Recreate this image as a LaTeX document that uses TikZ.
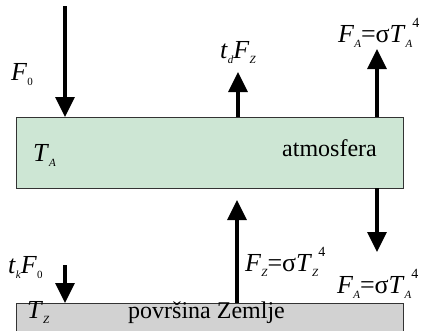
\documentclass[tikz,border=0pt]{standalone}
\usepackage{fontspec}
\setmainfont{Liberation Serif}
\usetikzlibrary{arrows.meta}
\definecolor{atmgreen}{HTML}{CDE6D4}
\definecolor{groundgray}{HTML}{D2D2D2}
\newcommand{\sbx}[1]{\raisebox{-0.22em}{\fontsize{11}{11}\selectfont #1}}
\newcommand{\spx}[1]{\raisebox{0.55em}{\fontsize{14}{14}\selectfont #1}}
\tikzset{
  flux/.style={line width=3.2pt, -{Triangle[length=20pt,width=19pt]}},
  layer/.style={draw=black!80, line width=0.9pt, inner sep=0pt},
  mlabel/.style={inner sep=0pt, font=\fontsize{26}{30}\selectfont},
  tlabel/.style={inner sep=0pt, font=\fontsize{24}{28}\selectfont},
}
\begin{document}
\begin{tikzpicture}[x=1pt,y=-1pt]
\clip (0,0) rectangle (427,330);
\fill[white] (0,0) rectangle (427,330);
% layers
\node[layer, fill=atmgreen, minimum width=387pt, minimum height=71pt] (atm) at (209.5,152.5) {};
\node[layer, fill=groundgray, minimum width=387pt, minimum height=40pt] (gnd) at (209.5,323) {};
% coordinates
\coordinate (f0top) at (65,6);
\coordinate (f0bot) at (65,117);
\coordinate (tdbot) at (238,117);
\coordinate (tdtop) at (238,72);
\coordinate (fabot) at (377,117);
\coordinate (fatop) at (377,49);
\coordinate (fzbot) at (237,303);
\coordinate (fztop) at (237,200);
\coordinate (fdtop) at (377,188);
\coordinate (fdbot) at (377,252);
\coordinate (tktop) at (65,265);
\coordinate (tkbot) at (65,303);
% arrows
\draw[flux] (f0top) -- (f0bot);
\draw[flux] (tdbot) -- (tdtop);
\draw[flux] (fabot) -- (fatop);
\draw[flux] (fzbot) -- (fztop);
\draw[flux] (fdtop) -- (fdbot);
\draw[flux] (tktop) -- (tkbot);
% labels
\node[mlabel, anchor=base west] (lf0) at (11,80) {\textit{F}\sbx{0}};
\node[mlabel, anchor=base west] (ltd) at (220,58) {\textit{t}\sbx{\textit{d}}\textit{F}\sbx{\textit{Z}}};
\node[mlabel, anchor=base west] (lfa1) at (338,42) {\textit{F}\sbx{\textit{A}}=σ\textit{T}\sbx{\textit{A}}\spx{4}};
\node[mlabel, anchor=base west] (lta) at (33,161) {\textit{T}\sbx{\textit{A}}};
\node[tlabel, anchor=base east] (latm) at (377,156) {atmosfera};
\node[mlabel, anchor=base west] (ltk) at (8,273) {\textit{t}\sbx{\textit{k}}\textit{F}\sbx{0}};
\node[mlabel, anchor=base west] (lfz) at (245,271) {\textit{F}\sbx{\textit{Z}}=σ\textit{T}\sbx{\textit{Z}}\spx{4}};
\node[mlabel, anchor=base west] (lfa2) at (337,293) {\textit{F}\sbx{\textit{A}}=σ\textit{T}\sbx{\textit{A}}\spx{4}};
\node[mlabel, anchor=base west] (ltz) at (27,318) {\textit{T}\sbx{\textit{Z}}};
\node[tlabel, anchor=base west] (lgnd) at (128,318) {površina Zemlje};
\end{tikzpicture}
\end{document}
